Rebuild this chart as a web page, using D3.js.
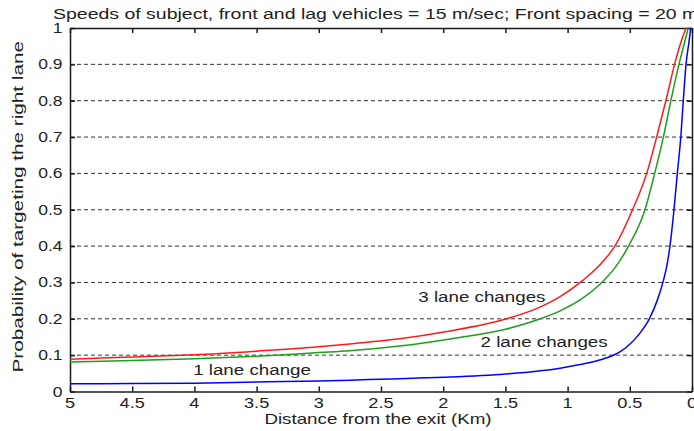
<!DOCTYPE html>
<html>
<head>
<meta charset="utf-8">
<script src="https://cdn.jsdelivr.net/npm/d3@7"></script>
<style>
  html, body { margin: 0; padding: 0; background: #fff; }
  svg { display: block; }
  text { font-family: "Liberation Sans", Arial, sans-serif; fill: #222; }
</style>
</head>
<body>
<svg id="chart" width="694" height="431"></svg>
<script>
// Distance to the exit (km) and probability of targeting the right lane
const oneLaneDist  = [5, 4.5, 4, 3.5, 3, 2.75, 2.5, 2, 1.5, 1.06, 0.9, 0.75, 0.65, 0.58, 0.5, 0.42, 0.343, 0.28, 0.23, 0.2, 0.177, 0.145, 0.118, 0.09, 0.07, 0.048, 0.025, 0.01];
const oneLaneProb  = [0.021, 0.022, 0.023, 0.026, 0.029, 0.031, 0.034, 0.039, 0.048, 0.064, 0.074, 0.086, 0.097, 0.109, 0.13, 0.16, 0.2, 0.25, 0.305, 0.35, 0.4, 0.5, 0.6, 0.7, 0.8, 0.9, 0.96, 1.0];

const twoLaneDist  = [5, 4.5, 4, 3.5, 3, 2.75, 2.35, 1.92, 1.49, 1.22, 1.06, 0.9, 0.74, 0.62, 0.51, 0.378, 0.3, 0.23, 0.17, 0.105, 0.06, 0.03];
const twoLaneProb  = [0.081, 0.085, 0.09, 0.097, 0.107, 0.112, 0.125, 0.146, 0.172, 0.2, 0.222, 0.252, 0.295, 0.34, 0.4, 0.5, 0.6, 0.7, 0.8, 0.9, 0.96, 1.0];

const threeLaneDist = [5, 4.5, 4, 3.5, 3, 2.75, 2.35, 1.97, 1.49, 1.25, 1.06, 0.88, 0.75, 0.62, 0.478, 0.364, 0.284, 0.21, 0.14, 0.09, 0.048];
const threeLaneProb = [0.089, 0.095, 0.101, 0.111, 0.123, 0.131, 0.145, 0.165, 0.2, 0.228, 0.261, 0.305, 0.345, 0.4, 0.5, 0.6, 0.7, 0.8, 0.9, 0.96, 1.0];

const xTicks = [5, 4.5, 4, 3.5, 3, 2.5, 2, 1.5, 1, 0.5, 0];
const yTicks = [0, 0.1, 0.2, 0.3, 0.4, 0.5, 0.6, 0.7, 0.8, 0.9, 1];
const gridLevels = [0.1, 0.2, 0.3, 0.4, 0.5, 0.6, 0.7, 0.8, 0.9];

const seriesNames = ["1 lane change", "2 lane changes", "3 lane changes"];
const seriesColors = ["#0000ff", "#1aa01a", "#ff1a1a"];
// label anchor points in data units (distance, probability)
const labelDist = [4.01, 1.70, 2.20];
const labelProb = [0.045, 0.123, 0.247];

const titleText = "Speeds of subject, front and lag vehicles = 15 m/sec; Front spacing = 20 m";
const xTitle = "Distance from the exit (Km)";
const yTitle = "Probability of targeting the right lane";

const plot = { left: 70, right: 692, top: 28, bottom: 391.5 };

const svg = d3.select("#chart");

const x = d3.scaleLinear().domain([5, 0]).range([plot.left, plot.right]);
const y = d3.scaleLinear().domain([0, 1]).range([plot.bottom, plot.top]);

// dashed horizontal grid
svg.append("g").selectAll("line").data(gridLevels).join("line")
  .attr("x1", plot.left).attr("x2", plot.right)
  .attr("y1", d => y(d)).attr("y2", d => y(d))
  .attr("stroke", "#333").attr("stroke-width", 1)
  .attr("stroke-dasharray", "4,3");

// text drawn with a wide (stretched) face
function label(g, tx, ty, str, opts) {
  const o = Object.assign({ size: 14, stretch: 1.3, anchor: "start", rotate: 0 }, opts);
  return g.append("text")
    .attr("transform", `translate(${tx},${ty})` + (o.rotate ? ` rotate(${o.rotate})` : "") + ` scale(${o.stretch},1)`)
    .attr("font-size", o.size)
    .attr("text-anchor", o.anchor)
    .text(str);
}

// box axes with inward ticks
const tick = 5;
const axB = d3.axisBottom(x).tickValues(xTicks).tickSizeInner(-tick).tickSizeOuter(0).tickFormat("");
const axT = d3.axisTop(x).tickValues(xTicks).tickSizeInner(-tick).tickSizeOuter(0).tickFormat("");
const axL = d3.axisLeft(y).tickValues(yTicks).tickSizeInner(-tick).tickSizeOuter(0).tickFormat("");
const axR = d3.axisRight(y).tickValues(yTicks).tickSizeInner(-tick).tickSizeOuter(0).tickFormat("");

function styleAxis(g) {
  g.selectAll("path, line").attr("stroke", "#1a1a1a").attr("stroke-width", 1.5);
}
svg.append("g").attr("transform", `translate(0,${plot.bottom})`).call(axB).call(styleAxis);
svg.append("g").attr("transform", `translate(0,${plot.top})`).call(axT).call(styleAxis);
svg.append("g").attr("transform", `translate(${plot.left},0)`).call(axL).call(styleAxis);
svg.append("g").attr("transform", `translate(${plot.right},0)`).call(axR).call(styleAxis);

// tick labels
const tl = svg.append("g");
xTicks.forEach(v => label(tl, x(v), plot.bottom + 16, String(v), { anchor: "middle" }));
yTicks.forEach(v => label(tl, plot.left - 7.5, y(v) + 5, String(v), { anchor: "end", stretch: 1.25 }));

// curves
const series = [
  { dist: oneLaneDist, prob: oneLaneProb },
  { dist: twoLaneDist, prob: twoLaneProb },
  { dist: threeLaneDist, prob: threeLaneProb }
];
const line = d3.line().x(d => x(d[0])).y(d => y(d[1])).curve(d3.curveMonotoneX);
series.forEach((s, i) => {
  svg.append("path")
    .datum(d3.zip(s.dist, s.prob))
    .attr("d", line)
    .attr("fill", "none")
    .attr("stroke", seriesColors[i])
    .attr("stroke-width", 1.5);
});

// curve labels
const ll = svg.append("g");
seriesNames.forEach((n, i) => label(ll, x(labelDist[i]), y(labelProb[i]), n, { size: 15, stretch: 1.25 }));

// titles
const tg = svg.append("g");
label(tg, 53, 18.5, titleText, { size: 15, stretch: 1.3 });
label(tg, (plot.left + plot.right) / 2 - 3, 423.5, xTitle, { anchor: "middle", stretch: 1.34 });
label(tg, 23, (plot.top + plot.bottom) / 2 - 3, yTitle, { anchor: "middle", rotate: -90, stretch: 1.48 });
</script>
</body>
</html>
